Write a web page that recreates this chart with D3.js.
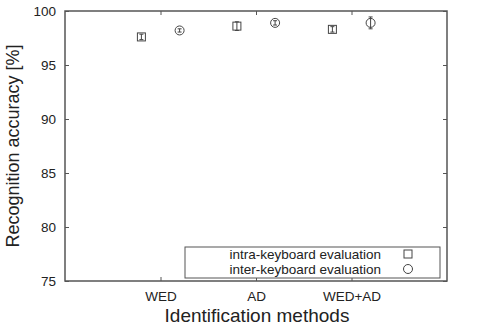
<!DOCTYPE html>
<meta charset="utf-8">
<script src="https://d3js.org/d3.v7.min.js"></script>
<style>
  body { margin: 0; background: #fff; }
  text { font-family: "Liberation Sans", Arial, sans-serif; fill: #222; }
</style>
<div id="viz"></div>
<script>
// data
var methods = ["WED", "AD", "WED+AD"];
var intraMean = [97.6, 98.6, 98.3];
var intraErr  = [0.25, 0.4, 0.25];
var interMean = [98.2, 98.9, 98.9];
var interErr  = [0.15, 0.2, 0.55];
var yTicks = [75, 80, 85, 90, 95, 100];

var W = 493, H = 330;
var margin = {top: 11, right: 46, bottom: 49, left: 65};
var width = W - margin.left - margin.right;
var height = H - margin.top - margin.bottom;

var svg = d3.select('#viz').append('svg')
    .attr('width', W).attr('height', H);
var g = svg.append('g')
    .attr('transform', 'translate(' + margin.left + ',' + margin.top + ')');

var x = d3.scaleLinear().domain([0, 4]).range([0, width]);
var y = d3.scaleLinear().domain([75, 100]).range([height, 0]);

var axisCol = '#555';

// ticks: bottom labels + inward ticks, mirrored on top
var xb = g.append('g').attr('transform', 'translate(0,' + height + ')')
    .call(d3.axisBottom(x).tickValues([1, 2, 3]).tickSize(-4).tickPadding(10)
        .tickFormat(function(d) { return methods[d - 1]; }));
var xt = g.append('g')
    .call(d3.axisTop(x).tickValues([1, 2, 3]).tickSize(-4).tickFormat(''));
var yl = g.append('g')
    .call(d3.axisLeft(y).tickValues(yTicks).tickSize(-4).tickPadding(9));
var yr = g.append('g').attr('transform', 'translate(' + width + ',0)')
    .call(d3.axisRight(y).tickValues(yTicks).tickSize(-4).tickFormat(''));
[xb, xt, yl, yr].forEach(function(a) {
  a.select('.domain').remove();
  a.selectAll('line').attr('stroke', axisCol);
  a.selectAll('text').style('font-size', '13.5px').attr('fill', '#222');
});

g.append('rect')
    .attr('width', width).attr('height', height)
    .attr('fill', 'none').attr('stroke', axisCol).attr('stroke-width', 1.5);

// axis titles
svg.append('text')
    .attr('transform', 'translate(19,' + (margin.top + height / 2) + ')rotate(-90)')
    .style('font-size', '18px').style('text-anchor', 'middle')
    .text('Recognition accuracy [%]');
svg.append('text')
    .attr('x', 257).attr('y', 322)
    .style('font-size', '19px').style('text-anchor', 'middle')
    .text('Identification methods');

var off = 0.2;
var markCol = '#444';

function errBars(means, errs, dx) {
  var sel = g.append('g');
  means.forEach(function(m, i) {
    var cx = x(i + 1 + dx);
    sel.append('line')
        .attr('x1', cx).attr('x2', cx)
        .attr('y1', y(m - errs[i])).attr('y2', y(m + errs[i]))
        .attr('stroke', markCol);
    [m - errs[i], m + errs[i]].forEach(function(v) {
      sel.append('line')
          .attr('x1', cx - 2).attr('x2', cx + 2)
          .attr('y1', y(v)).attr('y2', y(v))
          .attr('stroke', markCol);
    });
  });
}

errBars(intraMean, intraErr, -off);
errBars(interMean, interErr, off);

g.append('g').selectAll('rect')
    .data(intraMean).enter().append('rect')
    .attr('x', function(d, i) { return x(i + 1 - off) - 4; })
    .attr('y', function(d) { return y(d) - 4; })
    .attr('width', 8).attr('height', 8)
    .attr('fill', 'none').attr('stroke', markCol);

g.append('g').selectAll('circle')
    .data(interMean).enter().append('circle')
    .attr('cx', function(d, i) { return x(i + 1 + off); })
    .attr('cy', function(d) { return y(d); })
    .attr('r', 4.5)
    .attr('fill', 'none').attr('stroke', markCol);

// legend
var leg = svg.append('g');
leg.append('rect')
    .attr('x', 185).attr('y', 247).attr('width', 255).attr('height', 31)
    .attr('fill', '#fff').attr('stroke', axisCol);
var labels = ['intra-keyboard evaluation', 'inter-keyboard evaluation'];
labels.forEach(function(t, i) {
  leg.append('text')
      .attr('x', 381).attr('y', 259 + i * 15)
      .style('font-size', '13.5px').style('text-anchor', 'end')
      .text(t);
});
leg.append('rect')
    .attr('x', 404).attr('y', 250).attr('width', 8).attr('height', 8)
    .attr('fill', 'none').attr('stroke', markCol);
leg.append('circle')
    .attr('cx', 408).attr('cy', 269).attr('r', 4.5)
    .attr('fill', 'none').attr('stroke', markCol);
</script>
